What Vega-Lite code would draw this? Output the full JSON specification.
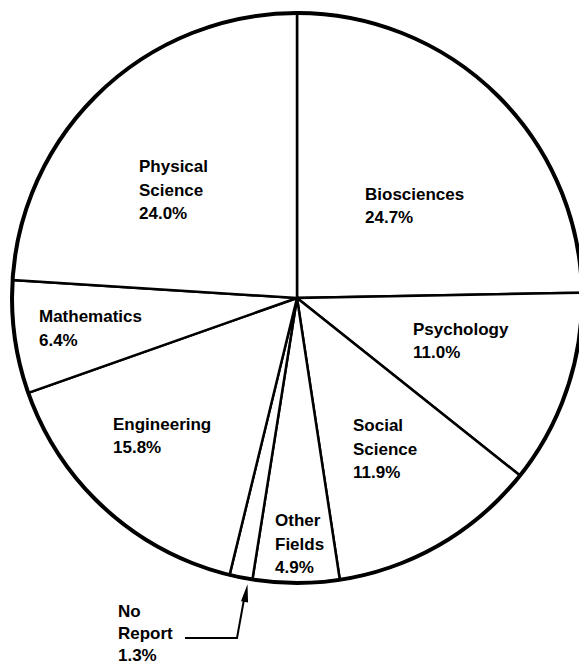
{
  "$schema": "https://vega.github.io/schema/vega-lite/v6.json",
  "width": 564,
  "height": 596,
  "autosize": "none",
  "padding": {"left": 15, "top": 0, "right": 0, "bottom": 71},
  "background": "white",
  "config": {"view": {"stroke": null}},
  "datasets": {
    "slices": [
      {"field": "Biosciences", "share": 24.7, "order": 1},
      {"field": "Psychology", "share": 11.0, "order": 2},
      {"field": "Social Science", "share": 11.9, "order": 3},
      {"field": "Other Fields", "share": 4.9, "order": 4},
      {"field": "No Report", "share": 1.3, "order": 5},
      {"field": "Engineering", "share": 15.8, "order": 6},
      {"field": "Mathematics", "share": 6.4, "order": 7},
      {"field": "Physical Science", "share": 24.0, "order": 8}
    ],
    "labels": [
      {"label": "Physical\nScience\n24.0%", "lx": -55.44, "ly": 48.77},
      {"label": "Biosciences\n24.7%", "lx": 23.86, "ly": 38.95},
      {"label": "Psychology\n11.0%", "lx": 40.70, "ly": -8.42},
      {"label": "Social\nScience\n11.9%", "lx": 19.65, "ly": -42.11},
      {"label": "Other\nFields\n4.9%", "lx": -7.72, "ly": -75.44},
      {"label": "Engineering\n15.8%", "lx": -64.56, "ly": -41.75},
      {"label": "Mathematics\n6.4%", "lx": -90.53, "ly": -3.86}
    ],
    "outsideLabel": [
      {"label": "No\nReport\n1.3%", "lx": -62.81, "ly": -107.37}
    ],
    "leader": [
      {"step": 1, "lx": -39.30, "ly": -119.30},
      {"step": 2, "lx": -21.05, "ly": -119.30},
      {"step": 3, "lx": -18.25, "ly": -103.86}
    ],
    "arrowhead": [
      {"lx": -17.89, "ly": -103.51}
    ]
  },
  "layer": [
    {
      "data": {"name": "slices"},
      "mark": {"type": "arc", "radius": 285, "fill": "white", "stroke": "black", "strokeWidth": 2.5},
      "encoding": {
        "theta": {"field": "share", "type": "quantitative", "stack": true},
        "order": {"field": "order", "type": "quantitative"}
      }
    },
    {
      "data": {"values": [{"outline": "circle"}]},
      "mark": {"type": "arc", "radius": 285, "theta": 0, "theta2": 6.2832, "fill": null, "stroke": "black", "strokeWidth": 4},
      "encoding": {}
    },
    {
      "data": {"name": "labels"},
      "mark": {"type": "text", "align": "left", "baseline": "top", "lineBreak": "\n", "font": "Liberation Sans", "fontWeight": "bold", "fontSize": 17, "lineHeight": 23.5, "color": "black"},
      "encoding": {
        "x": {"field": "lx", "type": "quantitative", "axis": null, "scale": {"domain": [-98.947, 98.947], "nice": false, "zero": false}},
        "y": {"field": "ly", "type": "quantitative", "axis": null, "scale": {"domain": [-104.561, 104.561], "nice": false, "zero": false}},
        "text": {"field": "label", "type": "nominal"}
      }
    },
    {
      "data": {"name": "outsideLabel"},
      "mark": {"type": "text", "align": "left", "baseline": "top", "lineBreak": "\n", "font": "Liberation Sans", "fontWeight": "bold", "fontSize": 17, "lineHeight": 22, "color": "black"},
      "encoding": {
        "x": {"field": "lx", "type": "quantitative", "axis": null, "scale": {"domain": [-98.947, 98.947], "nice": false, "zero": false}},
        "y": {"field": "ly", "type": "quantitative", "axis": null, "scale": {"domain": [-104.561, 104.561], "nice": false, "zero": false}},
        "text": {"field": "label", "type": "nominal"}
      }
    },
    {
      "data": {"name": "leader"},
      "mark": {"type": "line", "color": "black", "strokeWidth": 2},
      "encoding": {
        "x": {"field": "lx", "type": "quantitative", "axis": null, "scale": {"domain": [-98.947, 98.947], "nice": false, "zero": false}},
        "y": {"field": "ly", "type": "quantitative", "axis": null, "scale": {"domain": [-104.561, 104.561], "nice": false, "zero": false}},
        "order": {"field": "step", "type": "quantitative"}
      }
    },
    {
      "data": {"name": "arrowhead"},
      "mark": {"type": "point", "shape": "M0,-1L0.4,1L-0.4,1Z", "size": 324, "angle": 9.5, "filled": true, "color": "black", "opacity": 1},
      "encoding": {
        "x": {"field": "lx", "type": "quantitative", "axis": null, "scale": {"domain": [-98.947, 98.947], "nice": false, "zero": false}},
        "y": {"field": "ly", "type": "quantitative", "axis": null, "scale": {"domain": [-104.561, 104.561], "nice": false, "zero": false}}
      }
    }
  ]
}
